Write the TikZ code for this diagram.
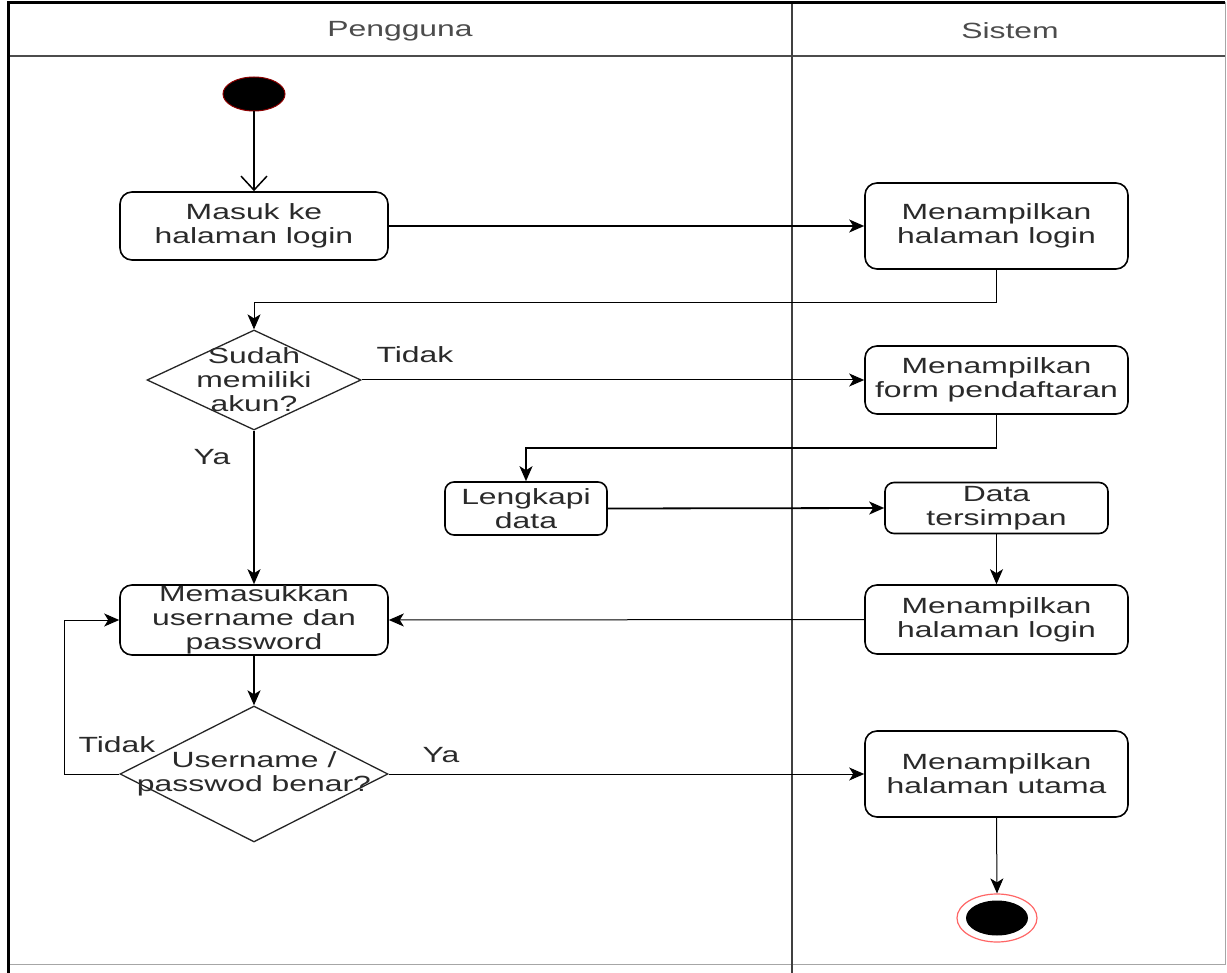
\documentclass[tikz,border=0pt]{standalone}
\usepackage{fontspec}
\setmainfont{Liberation Sans}[FakeStretch=1.45]
\usetikzlibrary{shapes.geometric,arrows.meta}
\definecolor{txt}{HTML}{2A2A2A}
\begin{document}
\begin{tikzpicture}[x=1pt,y=-1pt,
  lbl/.style={font=\fontsize{22}{24}\selectfont, text=txt},
  act/.style={lbl, draw=black, line width=1.6pt, rounded corners=12pt, align=center, inner sep=1pt},
  dec/.style={diamond, draw=black!85, line width=1.3pt, inner sep=0pt},
  thk/.style={line width=1.8pt, -{Stealth[length=15pt,width=13pt,inset=4pt]}},
  thn/.style={line width=1pt, -{Stealth[length=15pt,width=13pt,inset=4pt]}},
  opn/.style={line width=1.5pt, -{Straight Barb[length=14pt,width=26pt,line width=1.5pt]}},
]
\useasboundingbox (0,0) rectangle (1227,973);
\fill[white] (0,0) rectangle (1227,973);
% frame
\draw[gray!70, line width=1pt] (8,3) rectangle (1225,964);
\draw[line width=1.2pt, black!70] (8,56) -- (1225,56);
\draw[line width=1.2pt, black!75] (792,3) -- (792,973);
\draw[line width=3pt] (8,973) -- (8,3) -- (1225,3);
% headers
\node[lbl, text=black!70] (hp) at (400,31) {Pengguna};
\node[lbl, text=black!70] (hs) at (1010,31) {Sistem};
% nodes
\node[ellipse, fill=black, draw=red!55!black, line width=1pt, minimum width=62pt, minimum height=34pt, inner sep=0pt] (start) at (254,94) {};
\node[act, minimum width=268pt, minimum height=68pt] (masuk) at (254,226) {Masuk ke\\halaman login};
\node[act, minimum width=263pt, minimum height=86pt] (t1) at (996.5,226) {Menampilkan\\halaman login};
\node[dec, minimum width=214pt, minimum height=100pt, label={[lbl, align=center]center:Sudah\\memiliki\\akun?}] (d1) at (254,380) {};
\node[act, minimum width=263pt, minimum height=68pt] (form) at (996.5,380) {Menampilkan\\form pendaftaran};
\node[act, minimum width=162pt, minimum height=53pt, inner sep=0pt, rounded corners=9pt] (lengkapi) at (526,508.5) {Lengkapi\\data};
\node[act, minimum width=223pt, minimum height=51pt, inner sep=0pt, rounded corners=9pt] (data) at (996.5,508) {Data\\tersimpan};
\node[act, minimum width=263pt, minimum height=69pt] (t2) at (996.5,619.5) {Menampilkan\\halaman login};
\node[act, minimum width=268pt, minimum height=70pt, inner sep=0pt] (masukkan) at (254,620) {Memasukkan\\username dan\\password};
\node[dec, minimum width=268pt, minimum height=136pt, label={[lbl, align=center]center:Username /\\passwod benar?}] (d2) at (254,774) {};
\node[act, minimum width=263pt, minimum height=86pt] (utama) at (996.5,774) {Menampilkan\\halaman utama};
\node[ellipse, draw=red!60, fill=white, line width=1.2pt, minimum width=80pt, minimum height=48pt, inner sep=0pt] (end) at (997,918) {};
\node[ellipse, fill=black, minimum width=62pt, minimum height=35pt, inner sep=0pt] (endin) at (997,918) {};
% labels
\node[lbl] (l1) at (415,355) {Tidak};
\node[lbl] (l2) at (212,457) {Ya};
\node[lbl] (l3) at (117,745) {Tidak};
\node[lbl] (l4) at (441,755) {Ya};
% coordinates
\coordinate (c1) at (254,303);
\coordinate (c2) at (526,448);
\coordinate (c3) at (64,774);
% edges
\draw[opn] (start.south) -- (masuk.north);
\draw[thk] (masuk.east) -- (t1.west);
\draw[thn] (t1.south) |- (c1) -- (d1.north);
\draw[thn] (d1.east) -- (form.west);
\draw[thk] (form.south) |- (c2) -- (lengkapi.north);
\draw[thk] (lengkapi.east) -- (data.west);
\draw[thn] (data.south) -- (t2.north);
\draw[thn] (t2.west) -- (masukkan.east);
\draw[thk] (d1.south) -- (masukkan.north);
\draw[thk] (masukkan.south) -- (d2.north);
\draw[thn] (d2.west) -- (c3) |- (masukkan.west);
\draw[thn] (d2.east) -- (utama.west);
\draw[thn] (utama.south) -- (end.north);
\end{tikzpicture}
\end{document}
